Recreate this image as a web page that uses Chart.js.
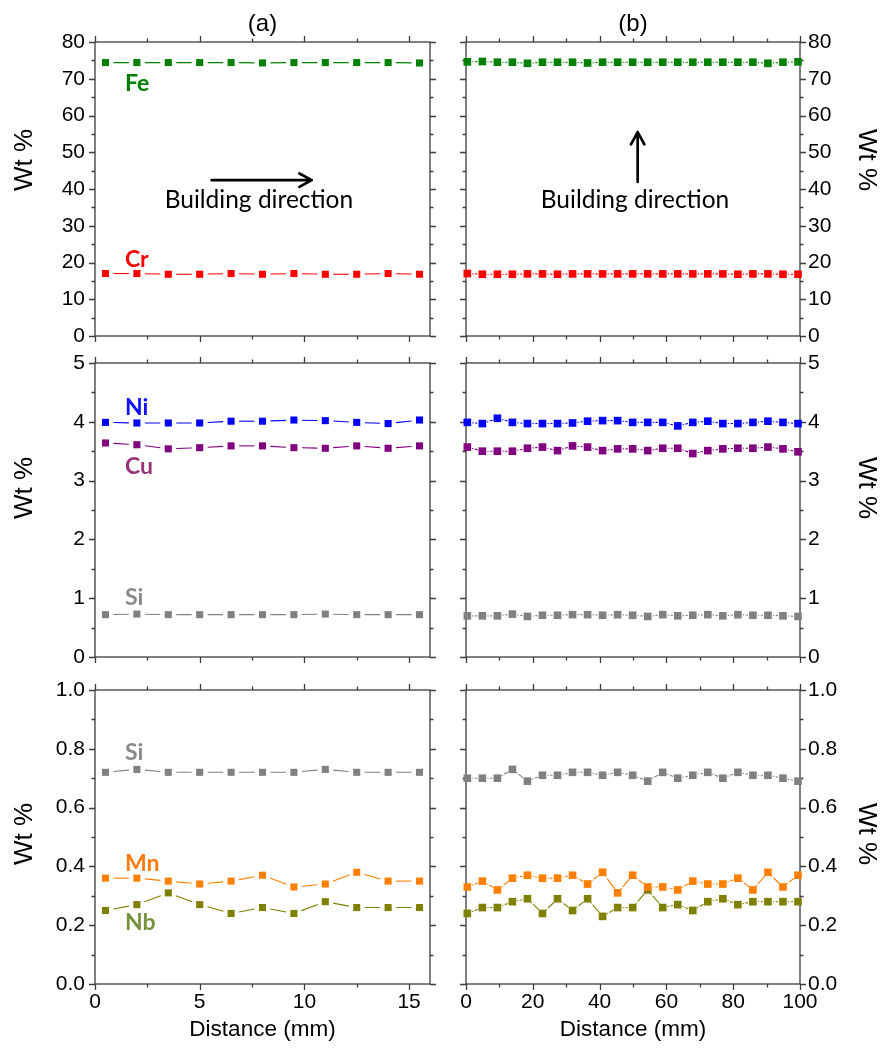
<!DOCTYPE html>
<html>
<head>
<meta charset="utf-8">
<title>Wt % along building direction</title>
<script src="https://cdn.jsdelivr.net/npm/chart.js@4.4.1/dist/chart.umd.min.js"></script>
<style>
  html, body { margin: 0; padding: 0; background: #fff; }
  #fig { position: relative; width: 882px; height: 1048px; }
  #fig canvas { position: absolute; display: block; }
</style>
</head>
<body>
<div id="fig">
  <canvas id="a1" width="441" height="345" style="left:0;top:0"></canvas>
  <canvas id="b1" width="441" height="345" style="left:441px;top:0"></canvas>
  <canvas id="a2" width="441" height="325" style="left:0;top:345px"></canvas>
  <canvas id="b2" width="441" height="325" style="left:441px;top:345px"></canvas>
  <canvas id="a3" width="441" height="378" style="left:0;top:670px"></canvas>
  <canvas id="b3" width="441" height="378" style="left:441px;top:670px"></canvas>
</div>
<script>
/* ---------- data: (a) horizontal scan, mm ---------- */
const xA  = [0.5, 2, 3.5, 5, 6.5, 8, 9.5, 11, 12.5, 14, 15.5];
const feA = [74.4, 74.4, 74.4, 74.4, 74.4, 74.3, 74.4, 74.4, 74.4, 74.4, 74.3];
const crA = [17.0, 17.0, 16.8, 16.8, 17.0, 16.8, 17.0, 16.8, 16.8, 17.0, 16.8];
const niA = [3.99, 3.98, 3.98, 3.98, 4.01, 4.01, 4.03, 4.02, 3.99, 3.97, 4.03];
const cuA = [3.64, 3.61, 3.54, 3.56, 3.59, 3.59, 3.56, 3.55, 3.59, 3.55, 3.59];
const siA = [0.72, 0.73, 0.72, 0.72, 0.72, 0.72, 0.72, 0.73, 0.72, 0.72, 0.72];
const mnA = [0.36, 0.36, 0.35, 0.34, 0.35, 0.37, 0.33, 0.34, 0.38, 0.35, 0.35];
const nbA = [0.25, 0.27, 0.31, 0.27, 0.24, 0.26, 0.24, 0.28, 0.26, 0.26, 0.26];

/* ---------- data: (b) vertical scan, mm ---------- */
const xB  = [0.4, 4.9, 9.4, 13.9, 18.4, 22.9, 27.4, 31.9, 36.4, 40.9, 45.4, 49.9,
             54.4, 58.9, 63.4, 67.9, 72.4, 76.9, 81.4, 85.9, 90.4, 94.9, 99.4];
const feB = [74.6, 74.7, 74.5, 74.5, 74.2, 74.5, 74.5, 74.5, 74.3, 74.5, 74.5, 74.5,
             74.5, 74.5, 74.5, 74.5, 74.5, 74.5, 74.5, 74.5, 74.2, 74.5, 74.6];
const crB = [17.0, 16.8, 16.8, 16.8, 16.9, 16.9, 16.8, 16.9, 16.9, 16.9, 16.9, 16.9,
             16.9, 16.9, 16.9, 16.9, 16.9, 16.9, 16.8, 16.9, 16.9, 16.8, 16.8];
const niB = [3.99, 3.97, 4.06, 3.99, 3.97, 3.97, 3.97, 3.98, 4.01, 4.02, 4.02, 3.99,
             3.99, 3.99, 3.93, 3.99, 4.01, 3.97, 3.97, 3.99, 4.01, 3.99, 3.97];
const cuB = [3.57, 3.50, 3.50, 3.50, 3.55, 3.57, 3.51, 3.59, 3.57, 3.51, 3.54, 3.54,
             3.51, 3.55, 3.55, 3.46, 3.51, 3.54, 3.55, 3.55, 3.57, 3.54, 3.49];
const siB = [0.70, 0.70, 0.70, 0.73, 0.69, 0.71, 0.71, 0.72, 0.72, 0.71, 0.72, 0.71,
             0.69, 0.72, 0.70, 0.71, 0.72, 0.70, 0.72, 0.71, 0.71, 0.70, 0.69];
const mnB = [0.33, 0.35, 0.32, 0.36, 0.37, 0.36, 0.36, 0.37, 0.34, 0.38, 0.31, 0.37,
             0.33, 0.33, 0.32, 0.35, 0.34, 0.34, 0.36, 0.32, 0.38, 0.33, 0.37];
const nbB = [0.24, 0.26, 0.26, 0.28, 0.29, 0.24, 0.29, 0.25, 0.29, 0.23, 0.26, 0.26,
             0.32, 0.26, 0.27, 0.25, 0.28, 0.29, 0.27, 0.28, 0.28, 0.28, 0.28];

const COL = { Fe: '#008000', Cr: '#ff0000', Ni: '#0000ff', Cu: '#800080',
              Si: '#808080', Mn: '#ff8000', Nb: '#808000' };
const TAG_COL = { Fe: '#008000', Cr: '#ff0000', Ni: '#1010ff', Cu: '#993377',
                  Si: '#8a8a8a', Mn: '#ff7a10', Nb: '#76923c' };

const AXIS_FONT = "'Liberation Sans', Arial, sans-serif";
const TEXT_FONT = "Lato, 'Open Sans', sans-serif";

/* ---------- line styles: Origin-like gap around each symbol ---------- */
function segLen(c) {
  return Math.hypot(c.p1.x - c.p0.x, c.p1.y - c.p0.y);
}
function gapDash(c) {
  const L = segLen(c), g = 8;
  return [0, g, Math.max(L - 2 * g, 0), g];
}
function dashDot(c) {
  const L = segLen(c), g = 5;
  return [0, g, 1.2, 1.6, Math.max(L - 2 * g - 2.8, 0), g];
}

/* ---------- frame, minor ticks, labels, arrows ---------- */
const decor = {
  id: 'decor',
  beforeDatasetsDraw(chart, args, o) {
    const { ctx, chartArea: a } = chart;
    const x = chart.scales.x, y = chart.scales.y;
    ctx.save();
    ctx.strokeStyle = '#3c3c3c';
    ctx.lineWidth = 1.3;
    ctx.strokeRect(a.left, a.top, a.right - a.left, a.bottom - a.top);
    ctx.beginPath();
    const isMajor = (v, m) => Math.abs(v / m - Math.round(v / m)) < 1e-6;
    const nx = Math.floor(o.xMax / o.xMinor + 1e-9);
    for (let i = 0; i <= nx; i++) {
      const v = i * o.xMinor;
      const px = Math.round(x.getPixelForValue(v)) + 0.5;
      const len = isMajor(v, o.xMajor) ? 6 : 3.5;
      ctx.moveTo(px, a.bottom); ctx.lineTo(px, a.bottom + len);
      ctx.moveTo(px, a.top); ctx.lineTo(px, a.top - len);
    }
    const ny = Math.round((o.yMax - o.yMin) / o.yMinor);
    for (let i = 0; i <= ny; i++) {
      const v = o.yMin + i * o.yMinor;
      const py = Math.round(y.getPixelForValue(v)) + 0.5;
      const len = isMajor(v, o.yMajor) ? 6 : 3.5;
      ctx.moveTo(a.left, py); ctx.lineTo(a.left - len, py);
      ctx.moveTo(a.right, py); ctx.lineTo(a.right + len, py);
    }
    ctx.stroke();
    ctx.restore();
  },
  afterDatasetsDraw(chart, args, o) {
    const { ctx } = chart;
    const x = chart.scales.x, y = chart.scales.y;
    ctx.save();

    // "Wt %" axis title, rotated
    ctx.fillStyle = '#000';
    ctx.font = `26px ${AXIS_FONT}`;
    ctx.textAlign = 'center';
    ctx.textBaseline = 'middle';
    ctx.save();
    ctx.translate(o.wtX, o.wtY);
    ctx.rotate(o.side === 'a' ? -Math.PI / 2 : Math.PI / 2);
    ctx.fillText('Wt %', 0, 0);
    ctx.restore();

    // element tags
    ctx.textAlign = 'left';
    ctx.textBaseline = 'alphabetic';
    ctx.font = `bold 23px ${TEXT_FONT}`;
    (o.tags || []).forEach(t => {
      ctx.fillStyle = TAG_COL[t.name];
      ctx.fillText(t.name, x.getPixelForValue(t.x), y.getPixelForValue(t.y));
    });

    // building direction note + arrow
    if (o.note) {
      ctx.fillStyle = '#000';
      ctx.font = `24.5px ${TEXT_FONT}`;
      ctx.textAlign = 'center';
      ctx.fillText('Building direction', x.getPixelForValue(o.note.x), y.getPixelForValue(o.note.y));

      const x0 = x.getPixelForValue(o.arrow.x0), y0 = y.getPixelForValue(o.arrow.y0);
      const x1 = x.getPixelForValue(o.arrow.x1), y1 = y.getPixelForValue(o.arrow.y1);
      const ang = Math.atan2(y1 - y0, x1 - x0);
      const hl = 14, hw = 0.5;
      ctx.strokeStyle = '#000';
      ctx.lineWidth = 2.7;
      ctx.lineCap = 'round';
      ctx.lineJoin = 'round';
      ctx.beginPath();
      ctx.moveTo(x0, y0); ctx.lineTo(x1, y1);
      ctx.moveTo(x1 - hl * Math.cos(ang - hw), y1 - hl * Math.sin(ang - hw));
      ctx.lineTo(x1, y1);
      ctx.lineTo(x1 - hl * Math.cos(ang + hw), y1 - hl * Math.sin(ang + hw));
      ctx.stroke();
    }
    ctx.restore();
  }
};

/* ---------- panel setup ---------- */
const ROWS = {
  top: { padTop: 0, padBottom: 9, xH: 0, wtY: 160 },
  mid: { padTop: 18, padBottom: 13, xH: 0, wtY: 143 },
  bot: { padTop: 20, padBottom: 0, xH: 64, wtY: 164 }
};

function makePanel(id, p) {
  const row = ROWS[p.row];
  const isA = p.side === 'a';
  const bottom = p.row === 'bot';

  const datasets = p.series.map(([name, values]) => ({
    label: name,
    data: p.x.map((xv, i) => ({ x: xv, y: values[i] })),
    borderColor: COL[name],
    backgroundColor: COL[name],
    borderWidth: 1.1,
    pointStyle: 'rect',
    pointRadius: isA ? 5 : 5.4,
    pointBorderWidth: 0,
    pointBackgroundColor: COL[name],
    tension: 0,
    clip: false,
    segment: { borderDash: isA ? gapDash : dashDot }
  }));

  return new Chart(document.getElementById(id), {
    type: 'line',
    data: { datasets },
    options: {
      responsive: false,
      animation: false,
      events: [],
      layout: {
        padding: {
          top: row.padTop, bottom: row.padBottom,
          left: isA ? 0 : 25, right: isA ? 11 : 0
        }
      },
      plugins: {
        legend: { display: false },
        tooltip: { enabled: false },
        title: {
          display: !!p.title,
          text: p.title,
          fullSize: false,
          color: '#000',
          font: { family: AXIS_FONT, size: 24, weight: 'normal' },
          padding: { top: 10, bottom: 3.2 }
        },
        decor: {
          side: p.side,
          xMax: p.xMax, xMajor: p.xMajor, xMinor: p.xMinor,
          yMin: 0, yMax: p.yMax, yMajor: p.yMajor, yMinor: p.yMinor,
          wtX: isA ? 25 : 425, wtY: row.wtY,
          tags: p.tags, note: p.note, arrow: p.arrow
        }
      },
      scales: {
        x: {
          type: 'linear',
          min: 0, max: p.xMax,
          grid: { display: false, drawTicks: false },
          border: { display: false },
          ticks: {
            display: bottom,
            stepSize: p.xMajor,
            includeBounds: false,
            padding: 6,
            maxRotation: 0,
            color: '#000',
            font: { family: AXIS_FONT, size: 21 }
          },
          title: {
            display: bottom,
            text: 'Distance (mm)',
            color: '#000',
            font: { family: AXIS_FONT, size: 22.5 },
            padding: { top: 0, bottom: 5 }
          },
          afterFit: s => { s.height = row.xH; s.paddingLeft = 0; s.paddingRight = 0; }
        },
        y: {
          type: 'linear',
          position: isA ? 'left' : 'right',
          min: 0, max: p.yMax,
          grid: { display: false, drawTicks: false },
          border: { display: false },
          ticks: {
            stepSize: p.yMajor,
            padding: isA ? 10 : 8,
            color: '#000',
            font: { family: AXIS_FONT, size: 21 },
            callback: v => Number(v).toFixed(p.yDec)
          },
          afterFit: s => { s.width = isA ? 95 : 82; s.paddingTop = 0; s.paddingBottom = 0; }
        }
      }
    },
    plugins: [decor]
  });
}

const xAxisA = { x: xA, xMax: 16, xMajor: 5, xMinor: 2.5 };
const xAxisB = { x: xB, xMax: 100, xMajor: 20, xMinor: 10 };
const tagX = 1.43;

makePanel('a1', { ...xAxisA, side: 'a', row: 'top', title: '(a)',
  yMax: 80, yMajor: 10, yMinor: 5, yDec: 0,
  series: [['Fe', feA], ['Cr', crA]],
  tags: [{ name: 'Fe', x: tagX, y: 66.6 }, { name: 'Cr', x: tagX, y: 18.7 }],
  note: { x: 7.83, y: 34.75 },
  arrow: { x0: 5.57, y0: 42.4, x1: 10.35, y1: 42.4 } });

makePanel('b1', { ...xAxisB, side: 'b', row: 'top', title: '(b)',
  yMax: 80, yMajor: 10, yMinor: 5, yDec: 0,
  series: [['Fe', feB], ['Cr', crB]],
  note: { x: 50.6, y: 34.75 },
  arrow: { x0: 51.4, y0: 41.9, x1: 51.4, y1: 55.5 } });

makePanel('a2', { ...xAxisA, side: 'a', row: 'mid',
  yMax: 5, yMajor: 1, yMinor: 0.5, yDec: 0,
  series: [['Ni', niA], ['Cu', cuA], ['Si', siA]],
  tags: [{ name: 'Ni', x: tagX, y: 4.11 }, { name: 'Cu', x: tagX, y: 3.12 },
         { name: 'Si', x: tagX, y: 0.88 }] });

makePanel('b2', { ...xAxisB, side: 'b', row: 'mid',
  yMax: 5, yMajor: 1, yMinor: 0.5, yDec: 0,
  series: [['Ni', niB], ['Cu', cuB], ['Si', siB]] });

makePanel('a3', { ...xAxisA, side: 'a', row: 'bot',
  yMax: 1, yMajor: 0.2, yMinor: 0.1, yDec: 1,
  series: [['Si', siA], ['Mn', mnA], ['Nb', nbA]],
  tags: [{ name: 'Si', x: tagX, y: 0.762 }, { name: 'Mn', x: tagX, y: 0.384 },
         { name: 'Nb', x: tagX, y: 0.184 }] });

makePanel('b3', { ...xAxisB, side: 'b', row: 'bot',
  yMax: 1, yMajor: 0.2, yMinor: 0.1, yDec: 1,
  series: [['Si', siB], ['Mn', mnB], ['Nb', nbB]] });
</script>
</body>
</html>
